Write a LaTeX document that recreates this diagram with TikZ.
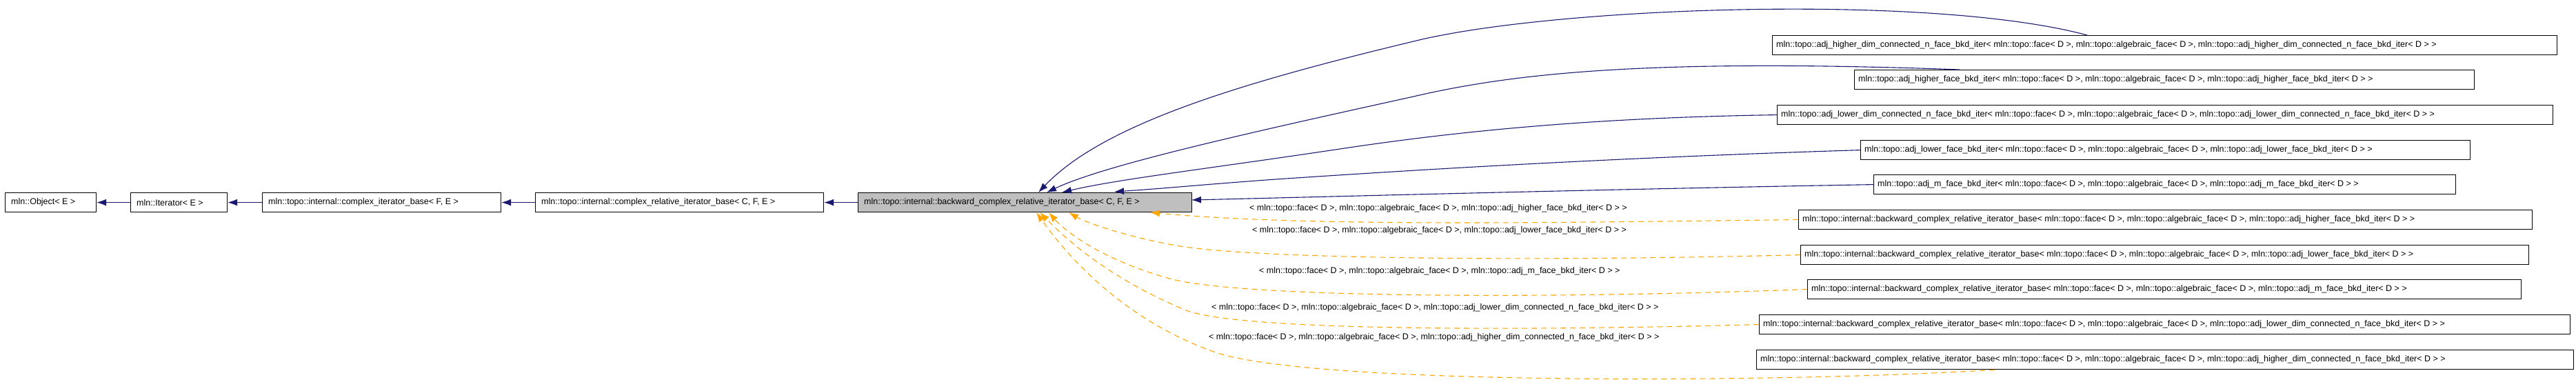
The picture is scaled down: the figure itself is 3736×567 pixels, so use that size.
\documentclass[tikz,border=0pt]{standalone}
\usepackage{fontspec}
\setmainfont{Liberation Sans}
\usetikzlibrary{arrows.meta}
\definecolor{edgeblue}{HTML}{191970}
\definecolor{edgeorange}{HTML}{FFA500}
\definecolor{mainfill}{HTML}{BFBFBF}
\begin{document}
\begin{tikzpicture}[x=1pt,y=-1pt,
  box/.style={draw=black,line width=1.2pt,inner sep=0pt,minimum height=28pt,anchor=north west},
  txt/.style={font=\fontsize{12.5}{14}\selectfont,anchor=west,inner sep=0pt},
  lbl/.style={font=\fontsize{12.5}{14}\selectfont,anchor=west,inner sep=0pt},
  inh/.style={draw=edgeblue,line width=1.1pt,-{Latex[length=14pt,width=10pt]}},
  tpl/.style={draw=edgeorange,line width=1.1pt,dashed,dash pattern=on 8pt off 6pt,-{Latex[length=14pt,width=10pt]}}]
\useasboundingbox (0,0) rectangle (3736,567);
% left chain
\node[box,minimum width=132pt] (obj) at (7,279) {};
\node[txt] (tobj) at ([xshift=9pt]obj.west) {mln::Object< E >};
\node[box,minimum width=140pt] (it) at (189,279) {};
\node[txt] (tit) at ([xshift=9pt]it.west) {mln::Iterator< E >};
\node[box,minimum width=346pt] (cib) at (380,279) {};
\node[txt] (tcib) at ([xshift=9pt]cib.west) {mln::topo::internal::complex\_iterator\_base< F, E >};
\node[box,minimum width=418pt] (crib) at (776,279) {};
\node[txt] (tcrib) at ([xshift=9pt]crib.west) {mln::topo::internal::complex\_relative\_iterator\_base< C, F, E >};
\node[box,fill=mainfill,minimum width=484pt] (main) at (1244,279) {};
\node[txt] (tmain) at ([xshift=9pt]main.west) {mln::topo::internal::backward\_complex\_relative\_iterator\_base< C, F, E >};
% right boxes
\node[box,minimum width=1138pt] (b1) at (2570,51) {};
\node[txt] (t1) at ([xshift=6pt]b1.west) {mln::topo::adj\_higher\_dim\_connected\_n\_face\_bkd\_iter< mln::topo::face< D >, mln::topo::algebraic\_face< D >, mln::topo::adj\_higher\_dim\_connected\_n\_face\_bkd\_iter< D > >};
\node[box,minimum width=899pt] (b2) at (2689,101) {};
\node[txt] (t2) at ([xshift=6pt]b2.west) {mln::topo::adj\_higher\_face\_bkd\_iter< mln::topo::face< D >, mln::topo::algebraic\_face< D >, mln::topo::adj\_higher\_face\_bkd\_iter< D > >};
\node[box,minimum width=1125pt] (b3) at (2577,152) {};
\node[txt] (t3) at ([xshift=6pt]b3.west) {mln::topo::adj\_lower\_dim\_connected\_n\_face\_bkd\_iter< mln::topo::face< D >, mln::topo::algebraic\_face< D >, mln::topo::adj\_lower\_dim\_connected\_n\_face\_bkd\_iter< D > >};
\node[box,minimum width=884pt] (b4) at (2698,203) {};
\node[txt] (t4) at ([xshift=6pt]b4.west) {mln::topo::adj\_lower\_face\_bkd\_iter< mln::topo::face< D >, mln::topo::algebraic\_face< D >, mln::topo::adj\_lower\_face\_bkd\_iter< D > >};
\node[box,minimum width=844pt] (b5) at (2717,253) {};
\node[txt] (t5) at ([xshift=6pt]b5.west) {mln::topo::adj\_m\_face\_bkd\_iter< mln::topo::face< D >, mln::topo::algebraic\_face< D >, mln::topo::adj\_m\_face\_bkd\_iter< D > >};
\node[box,minimum width=1064pt] (b6) at (2608,304) {};
\node[txt] (t6) at ([xshift=6pt]b6.west) {mln::topo::internal::backward\_complex\_relative\_iterator\_base< mln::topo::face< D >, mln::topo::algebraic\_face< D >, mln::topo::adj\_higher\_face\_bkd\_iter< D > >};
\node[box,minimum width=1056pt] (b7) at (2611,355) {};
\node[txt] (t7) at ([xshift=6pt]b7.west) {mln::topo::internal::backward\_complex\_relative\_iterator\_base< mln::topo::face< D >, mln::topo::algebraic\_face< D >, mln::topo::adj\_lower\_face\_bkd\_iter< D > >};
\node[box,minimum width=1035pt] (b8) at (2621,405) {};
\node[txt] (t8) at ([xshift=6pt]b8.west) {mln::topo::internal::backward\_complex\_relative\_iterator\_base< mln::topo::face< D >, mln::topo::algebraic\_face< D >, mln::topo::adj\_m\_face\_bkd\_iter< D > >};
\node[box,minimum width=1176pt] (b9) at (2551,456) {};
\node[txt] (t9) at ([xshift=6pt]b9.west) {mln::topo::internal::backward\_complex\_relative\_iterator\_base< mln::topo::face< D >, mln::topo::algebraic\_face< D >, mln::topo::adj\_lower\_dim\_connected\_n\_face\_bkd\_iter< D > >};
\node[box,minimum width=1185pt] (b10) at (2547,507) {};
\node[txt] (t10) at ([xshift=6pt]b10.west) {mln::topo::internal::backward\_complex\_relative\_iterator\_base< mln::topo::face< D >, mln::topo::algebraic\_face< D >, mln::topo::adj\_higher\_dim\_connected\_n\_face\_bkd\_iter< D > >};
% left chain edges
\draw[inh] (it.west) -- (obj.east);
\draw[inh] (cib.west) -- (it.east);
\draw[inh] (crib.west) -- (cib.east);
\draw[inh] (main.west) -- (crib.east);
% inheritance edges
\coordinate (m1) at (1506,279);
\coordinate (m2) at (1518,279);
\coordinate (m3) at (1540,279);
\coordinate (m4) at (1616,278);
\coordinate (m5) at (1728,290);
\draw[inh] ([xshift=457pt]b1.north west) .. controls (2800,-10) and (2250,10) .. (2050,60) .. controls (1800,120) and (1600,180) .. (m1);
\draw[inh] ([xshift=153pt]b2.north west) .. controls (2400,85) and (2200,105) .. (2050,140) .. controls (1800,195) and (1600,240) .. (m2);
\draw[inh] (b3.west) .. controls (2350,170) and (2150,185) .. (1950,215) .. controls (1750,245) and (1620,260) .. (m3);
\draw[inh] (b4.west) .. controls (2300,230) and (2000,250) .. (1850,260) .. controls (1740,268) and (1680,274) .. (m4);
\draw[inh] (b5.west) .. controls (2300,275) and (1900,286) .. (m5);
% template edges
\coordinate (n1) at (1668,308);
\coordinate (n2) at (1550,308);
\coordinate (n3) at (1521,308);
\coordinate (n4) at (1508,308);
\coordinate (n5) at (1503,308);
\draw[tpl] (b6.west) .. controls (2300,322) and (1900,330) .. (n1);
\draw[tpl] (b7.west) .. controls (2200,380) and (1800,375) .. (1700,355) .. controls (1620,340) and (1570,320) .. (n2);
\draw[tpl] (b8.west) .. controls (2200,435) and (1800,430) .. (1700,405) .. controls (1590,375) and (1540,330) .. (n3);
\draw[tpl] (b9.west) .. controls (2200,480) and (1800,480) .. (1720,450) .. controls (1600,400) and (1540,340) .. (n4);
\draw[tpl] ([xshift=346pt]b10.south west) .. controls (2600,555) and (1900,560) .. (1760,510) .. controls (1620,460) and (1540,360) .. (n5);
% labels
\node[lbl] (l1) at (1812,302) {< mln::topo::face< D >, mln::topo::algebraic\_face< D >, mln::topo::adj\_higher\_face\_bkd\_iter< D > >};
\node[lbl] (l2) at (1816,334) {< mln::topo::face< D >, mln::topo::algebraic\_face< D >, mln::topo::adj\_lower\_face\_bkd\_iter< D > >};
\node[lbl] (l3) at (1826,393) {< mln::topo::face< D >, mln::topo::algebraic\_face< D >, mln::topo::adj\_m\_face\_bkd\_iter< D > >};
\node[lbl] (l4) at (1757,446) {< mln::topo::face< D >, mln::topo::algebraic\_face< D >, mln::topo::adj\_lower\_dim\_connected\_n\_face\_bkd\_iter< D > >};
\node[lbl] (l5) at (1753,489) {< mln::topo::face< D >, mln::topo::algebraic\_face< D >, mln::topo::adj\_higher\_dim\_connected\_n\_face\_bkd\_iter< D > >};
\end{tikzpicture}
\end{document}
